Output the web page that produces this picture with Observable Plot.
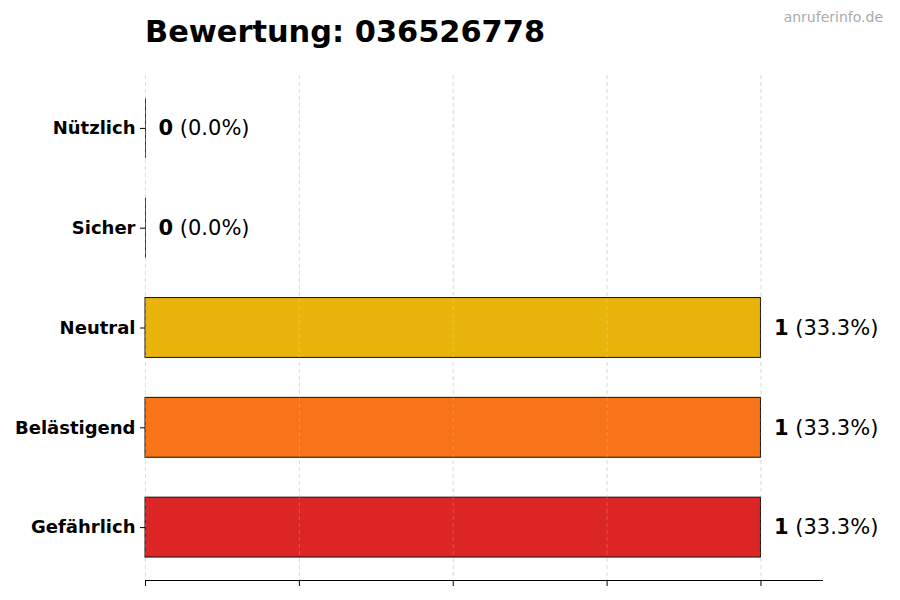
<!DOCTYPE html>
<html>
<head>
<meta charset="utf-8">
<script src="https://cdn.jsdelivr.net/npm/d3@7"></script>
<script src="https://cdn.jsdelivr.net/npm/@observablehq/plot@0.6"></script>
<style>
  html, body { margin: 0; padding: 0; background: #fff; }
  #wrap { position: relative; width: 900px; height: 600px; font-family: "DejaVu Sans", sans-serif; }
  #title { position: absolute; left: 145px; top: 14px; font-size: 30.4px; font-weight: bold; color: #000; white-space: nowrap; }
  #mark { position: absolute; right: 17px; top: 9px; font-size: 14px; color: #aaaaaa; white-space: nowrap; }
  #chart { position: absolute; left: 0; top: 0; }
</style>
</head>
<body>
<div id="wrap">
  <div id="chart"></div>
  <div id="title">Bewertung: 036526778</div>
  <div id="mark">anruferinfo.de</div>
</div>
<script>
const categories = ["Nützlich", "Sicher", "Neutral", "Belästigend", "Gefährlich"];
const counts = [0, 0, 1, 1, 1];
const percents = [0.0, 0.0, 33.3, 33.3, 33.3];
const colors = ["#22c55e", "#3b82f6", "#e8b40c", "#f87418", "#dc2626"];
const xTicks = [0, 0.25, 0.5, 0.75, 1];

const data = categories.map((c, i) => ({
  category: c, value: counts[i], pct: percents[i], color: colors[i]
}));

const chart = Plot.plot({
  width: 900,
  height: 600,
  marginLeft: 145,
  marginRight: 78,
  marginTop: 75,
  marginBottom: 20,
  style: { fontFamily: "DejaVu Sans, sans-serif", background: "transparent" },
  x: { domain: [0, 1.1], ticks: xTicks, label: null },
  y: { domain: categories, paddingInner: 0.4, paddingOuter: 0.23, round: false, label: null },
  marks: [
    Plot.gridX(xTicks, { stroke: "#cccccc", strokeOpacity: 1, strokeDasharray: "4,3", strokeWidth: 0.8 }),
    Plot.barX(data, { x: "value", y: "category", fill: d => d.color, stroke: "#111", strokeWidth: 1 }),
    Plot.tickX(data.filter(d => d.value === 0), { x: "value", y: "category", stroke: "#333", strokeWidth: 1 }),
    Plot.gridX(xTicks, { stroke: "#ffffff", strokeOpacity: 0.25, strokeDasharray: "4,3", strokeWidth: 0.8 }),
    Plot.axisX(xTicks, { tickFormat: () => "", tickSize: 6, stroke: "#000", label: null }),
    Plot.frame({ anchor: "bottom", stroke: "#000", strokeWidth: 1 }),
    Plot.axisY({ tickSize: 5, tickPadding: 5, fontSize: 18, fontWeight: "bold", fill: "#000", stroke: "#000", label: null }),
    Plot.text(data, {
      x: "value", y: "category",
      text: d => `${d.value} (${d.pct.toFixed(1)}%)`,
      dx: 13, textAnchor: "start", fontSize: 21, fill: "#000",
      className: "vlabel"
    })
  ]
});

document.getElementById("chart").appendChild(chart);

// Make the count bold and the percentage regular
d3.select(chart).selectAll("g.vlabel text").each(function () {
  const t = this.textContent;
  const i = t.indexOf(" ");
  const sel = d3.select(this);
  sel.text(null);
  sel.append("tspan").attr("font-weight", "bold").text(t.slice(0, i));
  sel.append("tspan").text(t.slice(i));
});
</script>
</body>
</html>
